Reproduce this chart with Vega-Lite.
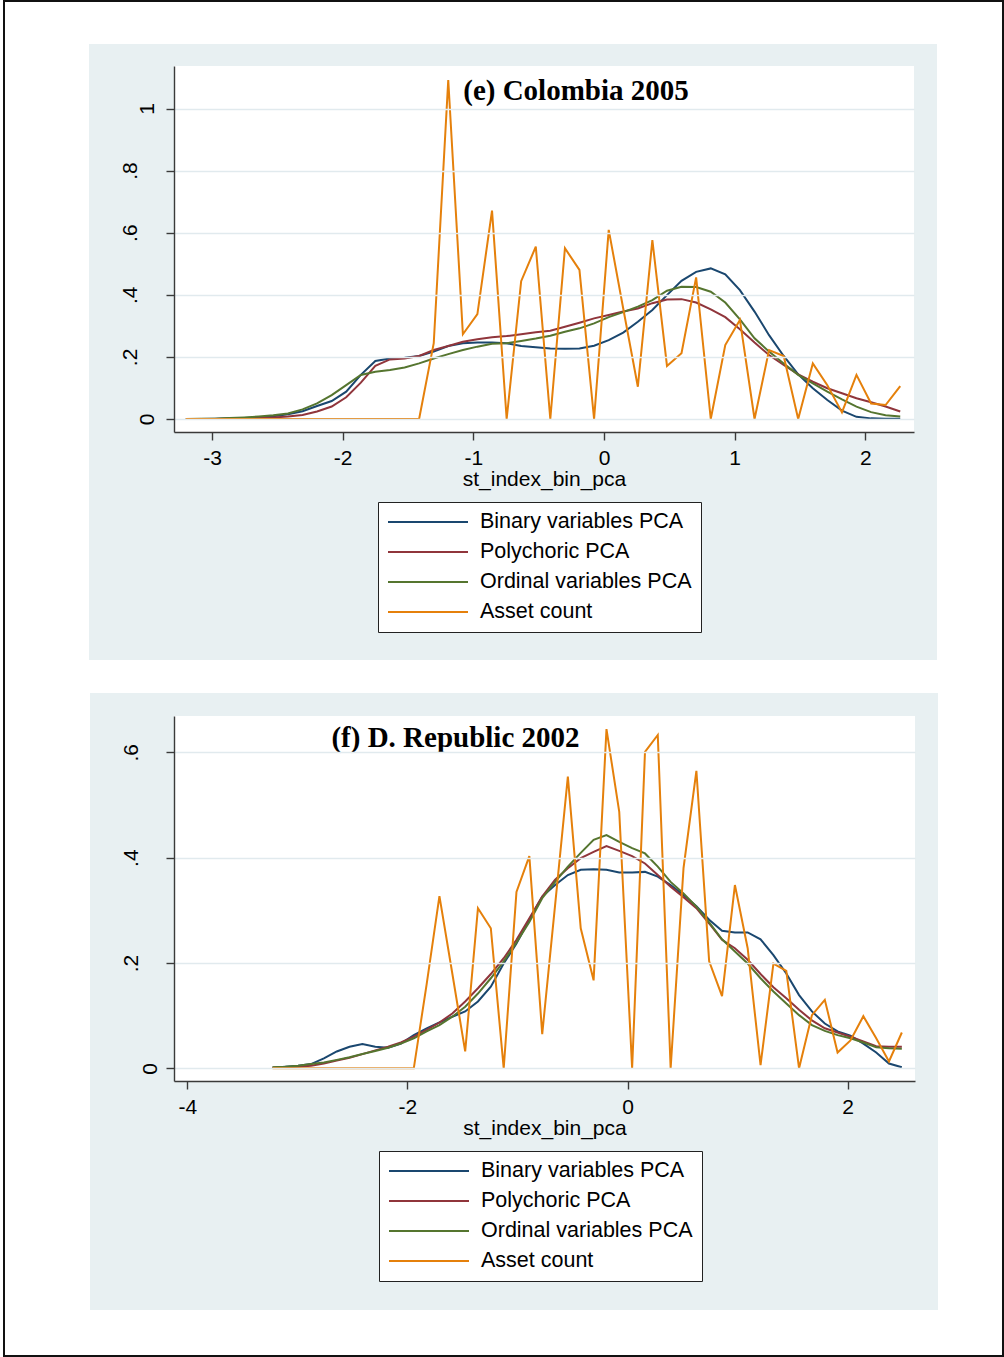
{
  "$schema": "https://vega.github.io/schema/vega-lite/v6.json",
  "background": "white",
  "padding": {"left": 2, "top": 0, "right": 1, "bottom": 0},
  "autosize": {"type": "pad"},
  "bounds": "flush",
  "spacing": 284,
  "config": {
    "view": {"stroke": null},
    "font": "Liberation Sans",
    "axis": {
      "zindex": 1,
      "labelFont": "Liberation Sans", "labelFontSize": 21, "labelColor": "#000",
      "titleFont": "Liberation Sans", "titleFontSize": 21, "titleFontWeight": "normal", "titleColor": "#000",
      "domainColor": "#3a3a3a", "domainWidth": 1.4, "tickColor": "#3a3a3a", "tickWidth": 1.4, "tickSize": 8,
      "gridColor": "#e1eaee", "gridWidth": 1.5, "labelOverlap": false, "labelFlush": false
    },
    "legend": {
      "orient": "none", "direction": "vertical",
      "padding": 9, "rowPadding": 8,
      "fillColor": "white", "strokeColor": "#222",
      "labelFont": "Liberation Sans", "labelFontSize": 21.5, "labelColor": "#000", "labelLimit": 400, "labelOffset": 71,
      "symbolType": "M-1,0H7", "symbolSize": 400, "symbolStrokeWidth": 2
    },
    "title": {"font": "Liberation Serif", "fontSize": 29, "fontWeight": "bold", "color": "#000", "frame": "group", "anchor": "middle", "baseline": "alphabetic"}
  },
  "resolve": {"scale": {"color": "independent"}, "legend": {"color": "independent"}},
  "datasets": {
    "col": [
      {"x": -3.200, "b": 0, "p": 0, "o": 0, "a": 0},
      {"x": -3.088, "b": 0, "p": 0, "o": 0.001, "a": 0},
      {"x": -2.977, "b": 0.001, "p": 0, "o": 0.001, "a": 0},
      {"x": -2.865, "b": 0.002, "p": 0.001, "o": 0.003, "a": 0},
      {"x": -2.754, "b": 0.003, "p": 0.002, "o": 0.005, "a": 0},
      {"x": -2.642, "b": 0.005, "p": 0.003, "o": 0.008, "a": 0},
      {"x": -2.531, "b": 0.009, "p": 0.005, "o": 0.012, "a": 0},
      {"x": -2.419, "b": 0.015, "p": 0.008, "o": 0.018, "a": 0},
      {"x": -2.307, "b": 0.025, "p": 0.013, "o": 0.031, "a": 0},
      {"x": -2.196, "b": 0.042, "p": 0.024, "o": 0.050, "a": 0},
      {"x": -2.084, "b": 0.058, "p": 0.040, "o": 0.077, "a": 0},
      {"x": -1.973, "b": 0.088, "p": 0.070, "o": 0.109, "a": 0},
      {"x": -1.861, "b": 0.142, "p": 0.117, "o": 0.142, "a": 0},
      {"x": -1.750, "b": 0.187, "p": 0.171, "o": 0.152, "a": 0},
      {"x": -1.638, "b": 0.195, "p": 0.192, "o": 0.158, "a": 0},
      {"x": -1.526, "b": 0.197, "p": 0.195, "o": 0.166, "a": 0},
      {"x": -1.415, "b": 0.203, "p": 0.203, "o": 0.179, "a": 0},
      {"x": -1.303, "b": 0.217, "p": 0.222, "o": 0.195, "a": 0.244},
      {"x": -1.192, "b": 0.235, "p": 0.235, "o": 0.209, "a": 1.092},
      {"x": -1.080, "b": 0.244, "p": 0.249, "o": 0.222, "a": 0.273},
      {"x": -0.969, "b": 0.246, "p": 0.257, "o": 0.233, "a": 0.338},
      {"x": -0.857, "b": 0.246, "p": 0.263, "o": 0.242, "a": 0.671},
      {"x": -0.745, "b": 0.244, "p": 0.267, "o": 0.244, "a": 0},
      {"x": -0.634, "b": 0.235, "p": 0.273, "o": 0.251, "a": 0.444},
      {"x": -0.522, "b": 0.231, "p": 0.279, "o": 0.259, "a": 0.555},
      {"x": -0.411, "b": 0.227, "p": 0.284, "o": 0.268, "a": 0},
      {"x": -0.299, "b": 0.226, "p": 0.297, "o": 0.281, "a": 0.550},
      {"x": -0.188, "b": 0.227, "p": 0.310, "o": 0.292, "a": 0.480},
      {"x": -0.076, "b": 0.236, "p": 0.324, "o": 0.308, "a": 0},
      {"x": 0.036, "b": 0.254, "p": 0.335, "o": 0.328, "a": 0.609},
      {"x": 0.147, "b": 0.278, "p": 0.346, "o": 0.344, "a": 0.356},
      {"x": 0.259, "b": 0.313, "p": 0.356, "o": 0.362, "a": 0.104},
      {"x": 0.370, "b": 0.351, "p": 0.373, "o": 0.383, "a": 0.576},
      {"x": 0.482, "b": 0.399, "p": 0.385, "o": 0.413, "a": 0.171},
      {"x": 0.593, "b": 0.445, "p": 0.386, "o": 0.426, "a": 0.212},
      {"x": 0.705, "b": 0.474, "p": 0.375, "o": 0.425, "a": 0.456},
      {"x": 0.817, "b": 0.485, "p": 0.353, "o": 0.410, "a": 0},
      {"x": 0.928, "b": 0.466, "p": 0.328, "o": 0.375, "a": 0.238},
      {"x": 1.040, "b": 0.415, "p": 0.289, "o": 0.321, "a": 0.319},
      {"x": 1.152, "b": 0.346, "p": 0.246, "o": 0.260, "a": 0},
      {"x": 1.263, "b": 0.270, "p": 0.206, "o": 0.217, "a": 0.222},
      {"x": 1.375, "b": 0.203, "p": 0.174, "o": 0.179, "a": 0.203},
      {"x": 1.486, "b": 0.144, "p": 0.144, "o": 0.142, "a": 0},
      {"x": 1.598, "b": 0.099, "p": 0.120, "o": 0.115, "a": 0.179},
      {"x": 1.709, "b": 0.061, "p": 0.099, "o": 0.088, "a": 0.109},
      {"x": 1.821, "b": 0.027, "p": 0.083, "o": 0.063, "a": 0.021},
      {"x": 1.932, "b": 0.007, "p": 0.067, "o": 0.040, "a": 0.142},
      {"x": 2.044, "b": 0.002, "p": 0.054, "o": 0.022, "a": 0.050},
      {"x": 2.155, "b": 0.001, "p": 0.040, "o": 0.012, "a": 0.045},
      {"x": 2.267, "b": 0.001, "p": 0.024, "o": 0.008, "a": 0.106}
    ],
    "dr": [
      {"x": -3.226, "b": 0.001, "p": 0.001, "o": 0.002, "a": 0},
      {"x": -3.109, "b": 0.003, "p": 0.002, "o": 0.003, "a": 0},
      {"x": -2.993, "b": 0.005, "p": 0.003, "o": 0.005, "a": 0},
      {"x": -2.876, "b": 0.008, "p": 0.005, "o": 0.008, "a": 0},
      {"x": -2.759, "b": 0.019, "p": 0.009, "o": 0.011, "a": 0},
      {"x": -2.642, "b": 0.032, "p": 0.015, "o": 0.016, "a": 0},
      {"x": -2.526, "b": 0.041, "p": 0.020, "o": 0.021, "a": 0},
      {"x": -2.409, "b": 0.046, "p": 0.027, "o": 0.027, "a": 0},
      {"x": -2.292, "b": 0.041, "p": 0.034, "o": 0.033, "a": 0},
      {"x": -2.176, "b": 0.039, "p": 0.041, "o": 0.039, "a": 0},
      {"x": -2.059, "b": 0.047, "p": 0.049, "o": 0.047, "a": 0},
      {"x": -1.942, "b": 0.063, "p": 0.060, "o": 0.057, "a": 0},
      {"x": -1.825, "b": 0.076, "p": 0.073, "o": 0.070, "a": 0.160},
      {"x": -1.709, "b": 0.087, "p": 0.087, "o": 0.082, "a": 0.327},
      {"x": -1.592, "b": 0.098, "p": 0.104, "o": 0.098, "a": 0.180},
      {"x": -1.475, "b": 0.108, "p": 0.127, "o": 0.117, "a": 0.032},
      {"x": -1.359, "b": 0.127, "p": 0.152, "o": 0.142, "a": 0.304},
      {"x": -1.242, "b": 0.155, "p": 0.179, "o": 0.171, "a": 0.266},
      {"x": -1.125, "b": 0.199, "p": 0.209, "o": 0.203, "a": 0},
      {"x": -1.009, "b": 0.237, "p": 0.244, "o": 0.239, "a": 0.335},
      {"x": -0.892, "b": 0.282, "p": 0.285, "o": 0.278, "a": 0.403},
      {"x": -0.775, "b": 0.326, "p": 0.326, "o": 0.323, "a": 0.065},
      {"x": -0.658, "b": 0.348, "p": 0.358, "o": 0.354, "a": 0.310},
      {"x": -0.542, "b": 0.367, "p": 0.380, "o": 0.383, "a": 0.554},
      {"x": -0.425, "b": 0.377, "p": 0.399, "o": 0.409, "a": 0.266},
      {"x": -0.308, "b": 0.378, "p": 0.411, "o": 0.434, "a": 0.167},
      {"x": -0.191, "b": 0.377, "p": 0.422, "o": 0.443, "a": 0.644},
      {"x": -0.075, "b": 0.372, "p": 0.413, "o": 0.430, "a": 0.487},
      {"x": 0.042, "b": 0.372, "p": 0.403, "o": 0.418, "a": 0},
      {"x": 0.159, "b": 0.373, "p": 0.389, "o": 0.408, "a": 0.601},
      {"x": 0.275, "b": 0.364, "p": 0.367, "o": 0.383, "a": 0.633},
      {"x": 0.392, "b": 0.348, "p": 0.345, "o": 0.354, "a": 0},
      {"x": 0.509, "b": 0.329, "p": 0.325, "o": 0.332, "a": 0.380},
      {"x": 0.626, "b": 0.308, "p": 0.304, "o": 0.307, "a": 0.565},
      {"x": 0.742, "b": 0.282, "p": 0.275, "o": 0.277, "a": 0.203},
      {"x": 0.859, "b": 0.261, "p": 0.244, "o": 0.245, "a": 0.137},
      {"x": 0.976, "b": 0.258, "p": 0.228, "o": 0.222, "a": 0.348},
      {"x": 1.092, "b": 0.258, "p": 0.206, "o": 0.199, "a": 0.228},
      {"x": 1.209, "b": 0.245, "p": 0.179, "o": 0.171, "a": 0.006},
      {"x": 1.326, "b": 0.215, "p": 0.154, "o": 0.146, "a": 0.199},
      {"x": 1.443, "b": 0.180, "p": 0.133, "o": 0.123, "a": 0.185},
      {"x": 1.559, "b": 0.139, "p": 0.111, "o": 0.101, "a": 0},
      {"x": 1.676, "b": 0.108, "p": 0.091, "o": 0.082, "a": 0.101},
      {"x": 1.793, "b": 0.085, "p": 0.076, "o": 0.071, "a": 0.130},
      {"x": 1.909, "b": 0.070, "p": 0.068, "o": 0.063, "a": 0.030},
      {"x": 2.026, "b": 0.062, "p": 0.060, "o": 0.057, "a": 0.053},
      {"x": 2.143, "b": 0.047, "p": 0.051, "o": 0.049, "a": 0.099},
      {"x": 2.260, "b": 0.030, "p": 0.042, "o": 0.040, "a": 0.057},
      {"x": 2.376, "b": 0.009, "p": 0.041, "o": 0.038, "a": 0.013},
      {"x": 2.493, "b": 0.002, "p": 0.041, "o": 0.037, "a": 0.068}
    ]
  },
  "vconcat": [
    {
      "width": 740, "height": 366,
      "title": {"text": "(e) Colombia 2005", "offset": -106, "dx": 32},
      "layer": [
        {
          "data": {"values": [{}]},
          "mark": {"type": "rect", "fill": "#e8f0f2", "clip": false},
          "encoding": {
            "x": {"datum": -3.9413, "type": "quantitative", "scale": {"domain": [-3.2908, 2.3723], "nice": false, "zero": false}},
            "x2": {"datum": 2.5484},
            "y": {"datum": 1.2077, "type": "quantitative", "scale": {"domain": [-0.0419, 1.1369], "nice": false, "zero": false}},
            "y2": {"datum": -0.7762}
          }
        },
        {
          "data": {"values": [{}]},
          "mark": {"type": "rect", "fill": "white", "clip": false},
          "encoding": {
            "x": {"datum": -3.2908, "type": "quantitative", "scale": {"domain": [-3.2908, 2.3723], "nice": false, "zero": false}},
            "x2": {"datum": 2.3723},
            "y": {"datum": 1.1369, "type": "quantitative", "scale": {"domain": [-0.0419, 1.1369], "nice": false, "zero": false}},
            "y2": {"datum": -0.0419}
          }
        },
        {
          "data": {"name": "col"},
          "transform": [{"fold": ["b", "p", "o", "a"], "as": ["s", "y"]}],
          "mark": {"type": "line", "strokeWidth": 2},
          "encoding": {
            "x": {"field": "x", "type": "quantitative", "scale": {"domain": [-3.2908, 2.3723], "nice": false, "zero": false},
              "axis": {"zindex": 2, "values": [-3, -2, -1, 0, 1, 2], "title": "st_index_bin_pca", "grid": false, "labelExpr": "'' + datum.value", "labelPadding": 7, "titlePadding": 0}},
            "y": {"field": "y", "type": "quantitative", "scale": {"domain": [-0.0419, 1.1369], "nice": false, "zero": false},
              "axis": {"zindex": 2, "values": [0, 0.2, 0.4, 0.6, 0.8, 1], "title": null, "grid": true, "labelAngle": -90, "labelAlign": "center", "labelBaseline": "alphabetic",
                "labelPadding": {"condition": {"test": "datum.value == 0 || datum.value == 1", "value": 13}, "value": 30},
                "labelExpr": "datum.value == 0 ? '0' : datum.value >= 0.999 ? '1' : substring(format(datum.value, '.1f'), 1)"}},
            "color": {"field": "s", "type": "nominal",
              "scale": {"domain": ["b", "p", "o", "a"], "range": ["#1a476f", "#90353b", "#55752f", "#e5800b"]},
              "legend": {"title": null, "legendX": 204, "legendY": 436,
                "labelExpr": "datum.label == 'b' ? 'Binary variables PCA' : datum.label == 'p' ? 'Polychoric PCA' : datum.label == 'o' ? 'Ordinal variables PCA' : 'Asset count'"}}
          }
        },
        {
          "data": {"values": [{}]},
          "mark": {"type": "rect", "fill": "transparent", "stroke": "#111", "strokeWidth": 2, "clip": false},
          "encoding": {
            "x": {"datum": -4.5918, "type": "quantitative", "scale": {"domain": [-3.2908, 2.3723], "nice": false, "zero": false}},
            "x2": {"datum": 3.0534},
            "y": {"datum": 1.3462, "type": "quantitative", "scale": {"domain": [-0.0419, 1.1369], "nice": false, "zero": false}},
            "y2": {"datum": -3.0177}
          }
        }
      ]
    },
    {
      "width": 741, "height": 365,
      "title": {"text": "(f) D. Republic 2002", "offset": -60, "dx": -89},
      "layer": [
        {
          "data": {"values": [{}]},
          "mark": {"type": "rect", "fill": "#e8f0f2", "clip": false},
          "encoding": {
            "x": {"datum": -4.884, "type": "quantitative", "scale": {"domain": [-4.121, 2.6125], "nice": false, "zero": false}},
            "x2": {"datum": 2.8214},
            "y": {"datum": 0.7126, "type": "quantitative", "scale": {"domain": [-0.0241, 0.669], "nice": false, "zero": false}},
            "y2": {"datum": -0.4589}
          }
        },
        {
          "data": {"values": [{}]},
          "mark": {"type": "rect", "fill": "white", "clip": false},
          "encoding": {
            "x": {"datum": -4.121, "type": "quantitative", "scale": {"domain": [-4.121, 2.6125], "nice": false, "zero": false}},
            "x2": {"datum": 2.6125},
            "y": {"datum": 0.669, "type": "quantitative", "scale": {"domain": [-0.0241, 0.669], "nice": false, "zero": false}},
            "y2": {"datum": -0.0241}
          }
        },
        {
          "data": {"name": "dr"},
          "transform": [{"fold": ["b", "p", "o", "a"], "as": ["s", "y"]}],
          "mark": {"type": "line", "strokeWidth": 2},
          "encoding": {
            "x": {"field": "x", "type": "quantitative", "scale": {"domain": [-4.121, 2.6125], "nice": false, "zero": false},
              "axis": {"zindex": 2, "values": [-4, -2, 0, 2], "title": "st_index_bin_pca", "grid": false, "labelExpr": "'' + datum.value", "labelPadding": 7, "titlePadding": 0}},
            "y": {"field": "y", "type": "quantitative", "scale": {"domain": [-0.0241, 0.669], "nice": false, "zero": false},
              "axis": {"zindex": 2, "values": [0, 0.2, 0.4, 0.6], "title": null, "grid": true, "labelAngle": -90, "labelAlign": "center", "labelBaseline": "alphabetic",
                "labelPadding": {"condition": {"test": "datum.value == 0 || datum.value == 1", "value": 10}, "value": 29},
                "labelExpr": "datum.value == 0 ? '0' : datum.value >= 0.999 ? '1' : substring(format(datum.value, '.1f'), 1)"}},
            "color": {"field": "s", "type": "nominal",
              "scale": {"domain": ["b", "p", "o", "a"], "range": ["#1a476f", "#90353b", "#55752f", "#e5800b"]},
              "legend": {"title": null, "legendX": 205, "legendY": 435,
                "labelExpr": "datum.label == 'b' ? 'Binary variables PCA' : datum.label == 'p' ? 'Polychoric PCA' : datum.label == 'o' ? 'Ordinal variables PCA' : 'Asset count'"}}
          }
        }
      ]
    }
  ]
}
